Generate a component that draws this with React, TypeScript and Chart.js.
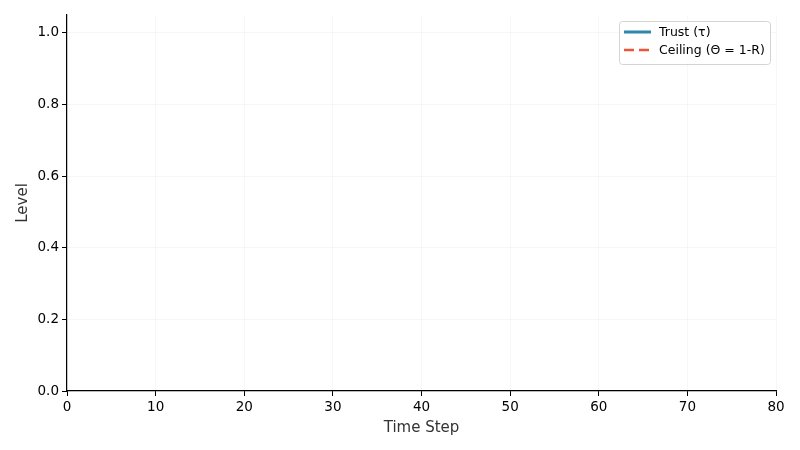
import React, { useEffect, useRef } from "react";
import { Chart, registerables } from "chart.js";

Chart.register(...registerables);

// the reference shows empty series: only the axes and legend are drawn
const timeSteps: number[] = [];
const trustValues: number[] = [];
const ceilingValues: number[] = [];
const xTicks = [0, 10, 20, 30, 40, 50, 60, 70, 80];
const yTicks = [0, 0.2, 0.4, 0.6, 0.8, 1.0];

const FONT = "'DejaVu Sans', sans-serif";

// matplotlib-like legend box in the upper right
const legendBox = {
  id: "legendBox",
  afterDraw(chart: Chart) {
    const { ctx, chartArea } = chart;
    const x = chartArea.right - 157;
    const y = chartArea.top + 6;
    const w = 151;
    const h = 43;
    ctx.save();
    ctx.fillStyle = "rgba(255,255,255,0.8)";
    ctx.strokeStyle = "#d4d4d4";
    ctx.lineWidth = 1;
    ctx.beginPath();
    ctx.roundRect(x + 0.5, y + 0.5, w, h, 3);
    ctx.fill();
    ctx.stroke();
    ctx.font = `12.5px ${FONT}`;
    ctx.textBaseline = "middle";
    chart.data.datasets.forEach((ds: any, i: number) => {
      const ly = y + 11 + i * 18;
      ctx.strokeStyle = ds.borderColor;
      ctx.lineWidth = ds.borderWidth;
      ctx.setLineDash(ds.borderDash || []);
      ctx.beginPath();
      ctx.moveTo(x + 5, ly);
      ctx.lineTo(x + 32, ly);
      ctx.stroke();
      ctx.setLineDash([]);
      ctx.fillStyle = "#000";
      ctx.fillText(ds.label, x + 40, ly + 0.5);
    });
    ctx.restore();
  },
};

export default function App() {
  const canvasRef = useRef<HTMLCanvasElement | null>(null);

  useEffect(() => {
    if (!canvasRef.current) return;
    const chart = new Chart(canvasRef.current, {
      type: "line",
      data: {
        datasets: [
          {
            label: "Trust (τ)",
            data: timeSteps.map((t, i) => ({ x: t, y: trustValues[i] })),
            borderColor: "#2E86AB",
            borderWidth: 3,
            pointRadius: 0,
          },
          {
            label: "Ceiling (Θ = 1-R)",
            data: timeSteps.map((t, i) => ({ x: t, y: ceilingValues[i] })),
            borderColor: "#EC553A",
            borderWidth: 2.5,
            borderDash: [10, 5],
            pointRadius: 0,
          },
        ],
      },
      options: {
        responsive: false,
        animation: false,
        layout: { padding: { top: 15, right: 24, left: 0, bottom: 0 } },
        plugins: { legend: { display: false }, tooltip: { enabled: false } },
        scales: {
          x: {
            type: "linear",
            min: 0,
            max: 80,
            afterBuildTicks: (axis: any) => {
              axis.ticks = xTicks.map((v) => ({ value: v }));
            },
            afterFit: (axis: any) => {
              axis.height = 59;
            },
            ticks: { color: "#000", font: { family: FONT, size: 13.5 }, padding: 3 },
            grid: { color: "rgba(0,0,0,0.03)", tickColor: "#000", tickLength: 5, lineWidth: 1 },
            border: { color: "#000", width: 1.2 },
            title: {
              display: true,
              text: "Time Step",
              color: "#333",
              font: { family: FONT, size: 15 },
              padding: { top: 0, bottom: 13 },
            },
          },
          y: {
            min: 0,
            max: 1.05,
            afterBuildTicks: (axis: any) => {
              axis.ticks = yTicks.map((v) => ({ value: v }));
            },
            afterFit: (axis: any) => {
              axis.width = 67;
            },
            ticks: {
              color: "#000",
              font: { family: FONT, size: 13.5 },
              padding: 3,
              callback: (v: any) => Number(v).toFixed(1),
            },
            grid: { color: "rgba(0,0,0,0.03)", tickColor: "#000", tickLength: 5, lineWidth: 1 },
            border: { color: "#000", width: 1.2 },
            title: {
              display: true,
              text: "Level",
              color: "#333",
              font: { family: FONT, size: 15 },
              padding: { top: 14, bottom: 0 },
            },
          },
        },
      },
      plugins: [legendBox],
    });
    return () => chart.destroy();
  }, []);

  return (
    <div style={{ position: "fixed", left: 0, top: 0, width: 800, height: 450, background: "#fff" }}>
      <canvas ref={canvasRef} width={800} height={450} />
    </div>
  );
}
